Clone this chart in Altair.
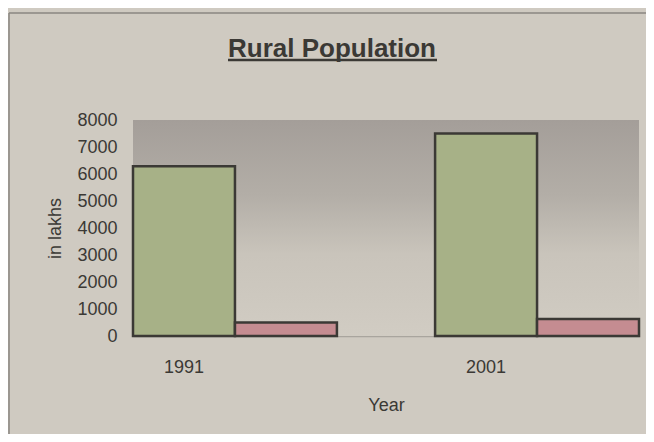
import altair as alt
import pandas as pd

years = ["1991", "2001"]
series = ["A", "B"]
green_values = [6290, 7500]
pink_values = [500, 630]
y_ticks = [0, 1000, 2000, 3000, 4000, 5000, 6000, 7000, 8000]

rows = []
for i, yr in enumerate(years):
    rows.append({"Year": yr, "series": series[0], "value": green_values[i]})
    rows.append({"Year": yr, "series": series[1], "value": pink_values[i]})
df = pd.DataFrame(rows)

W, H = 506, 216
BG = "#cfcac1"
INK = "#3b3935"

bg = alt.Chart(alt.Data(values=[{"k": 1}])).mark_rect(
    color=alt.Gradient(
        gradient="linear", x1=0, y1=0, x2=0, y2=1,
        stops=[
            alt.GradientStop(color="#a49e99", offset=0),
            alt.GradientStop(color="#b3aea7", offset=0.35),
            alt.GradientStop(color="#c9c4bb", offset=0.62),
            alt.GradientStop(color="#d1ccc3", offset=1),
        ],
    )
).encode(x=alt.value(0), x2=alt.value(W), y=alt.value(0), y2=alt.value(H))

bars = alt.Chart(df).mark_bar(stroke=INK, strokeWidth=2.5).encode(
    x=alt.X(
        "Year:N",
        scale=alt.Scale(paddingInner=0.325, paddingOuter=0),
        axis=alt.Axis(
            labelAngle=0, labelOffset=-51, labelPadding=22, ticks=False,
            domainColor="#a9a59e", domainWidth=1.5,
            labelFontSize=18, labelColor=INK, titleFontSize=18,
            titleColor=INK, titleFontWeight="normal", titlePadding=20,
            labelFont="Liberation Sans", titleFont="Liberation Sans",
        ),
        title="Year",
    ),
    xOffset=alt.XOffset("series:N", sort=series),
    y=alt.Y(
        "value:Q",
        scale=alt.Scale(domain=[0, 8000]),
        axis=alt.Axis(
            values=y_ticks, format="d", domain=False, ticks=False, grid=False,
            labelPadding=16, labelFontSize=18, labelColor=INK,
            labelFont="Liberation Sans", titleFont="Liberation Sans",
            titleFontSize=18, titleColor=INK, titleFontWeight="normal",
            titlePadding=12,
        ),
        title="in lakhs",
    ),
    color=alt.Color(
        "series:N", sort=series,
        scale=alt.Scale(domain=series, range=["#a7b187", "#c58c91"]),
        legend=None,
    ),
)

underline = alt.Chart(alt.Data(values=[{"k": 1}])).mark_rule(
    color=INK, strokeWidth=2.5
).encode(x=alt.value(95), x2=alt.value(304), y=alt.value(-60))

border_left = alt.Chart(alt.Data(values=[{"k": 1}])).mark_rule(
    color="#8a8680", strokeWidth=1.5
).encode(x=alt.value(-124), y=alt.value(-107), y2=alt.value(320))

border_top = alt.Chart(alt.Data(values=[{"k": 1}])).mark_rule(
    color="#8a8680", strokeWidth=1.5
).encode(x=alt.value(-124), x2=alt.value(520), y=alt.value(-107))

chart = alt.layer(bg, bars, underline, border_left, border_top).properties(
    width=W,
    height=H,
    autosize=alt.AutoSizeParams(type="none"),
    padding={"left": 125, "top": 112, "right": 7, "bottom": 98},
    background=BG,
    title=alt.TitleParams(
        "Rural Population", fontSize=26, fontWeight="bold", color=INK,
        font="Liberation Sans", anchor="middle", dx=-54, offset=0, dy=50,
    ),
).configure_view(stroke=None)

chart.save("out.html", embed_options={"renderer": "svg", "actions": False})
